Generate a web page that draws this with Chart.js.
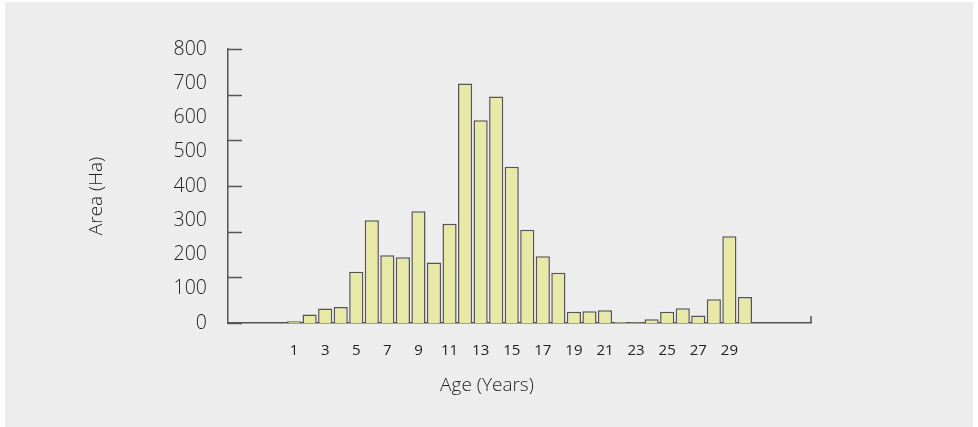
<!DOCTYPE html>
<html>
<head>
<meta charset="utf-8">
<script src="https://cdn.jsdelivr.net/npm/chart.js@4.4.1/dist/chart.umd.min.js"></script>
<style>
  html, body { margin: 0; padding: 0; background: #fff; }
  #wrap { position: absolute; left: 5px; top: 2px; width: 968px; height: 425px; background: #ededed; }
  canvas { display: block; }
</style>
</head>
<body>
<div id="wrap"><canvas id="chart" width="968" height="425"></canvas></div>
<script>
/* Data */
const ages = [1, 2, 3, 4, 5, 6, 7, 8, 9, 10, 11, 12, 13, 14, 15,
              16, 17, 18, 19, 20, 21, 22, 23, 24, 25, 26, 27, 28, 29, 30];
const areas = [5, 25, 42, 47, 150, 300, 198, 192, 326, 177, 290, 699, 592, 661, 456,
               272, 195, 147, 33, 34, 37, 3, 2, 11, 33, 43, 22, 69, 253, 76];
const xTickValues = [1, 3, 5, 7, 9, 11, 13, 15, 17, 19, 21, 23, 25, 27, 29];
const yMax = 800;
const yStep = 100;
const yMarkCount = 6;   // tick marks on the y axis line (not at label positions)
const xTitle = "Age (Years)";
const yTitle = "Area (Ha)";

const AXIS = "#555";
const FONT = "'Open Sans', sans-serif";

/* Inward tick marks, end mark of the x axis, axis titles */
const axisMarks = {
    id: "axisMarks",
    afterDraw(chart) {
        const { ctx, scales: { x, y } } = chart;
        ctx.save();
        ctx.strokeStyle = AXIS;
        ctx.lineWidth = 1.5;
        for (let i = 0; i <= yMarkCount; i++) {
            const py = Math.round(y.getPixelForValue(i * yMax / yMarkCount)) + 0.5;
            ctx.beginPath();
            ctx.moveTo(x.left, py);
            ctx.lineTo(x.left + 14, py);
            ctx.stroke();
        }
        ctx.beginPath();
        ctx.moveTo(x.right, y.bottom);
        ctx.lineTo(x.right, y.bottom - 7);
        ctx.stroke();

        // titles (not centred on the axes in the original)
        ctx.fillStyle = "#1e1e1e";
        ctx.textAlign = "center";
        ctx.textBaseline = "middle";
        ctx.font = "300 19px " + FONT;
        ctx.fillText(xTitle, chart.width / 2 - 2, y.bottom + 63);
        ctx.translate(92, (y.top + y.bottom) / 2 + 10);
        ctx.rotate(-Math.PI / 2);
        ctx.font = "300 19px " + FONT;
        ctx.fillText(yTitle, 0, 0);
        ctx.restore();
    }
};

Chart.defaults.font.family = FONT;
Chart.defaults.font.weight = 300;
Chart.defaults.color = "#1e1e1e";

new Chart(document.getElementById("chart"), {
    type: "bar",
    data: {
        datasets: [{
            data: ages.map((a, i) => ({ x: a, y: areas[i] })),
            backgroundColor: "#e8e9a7",
            borderColor: "#555",
            borderWidth: 1.5,
            categoryPercentage: 1,
            barPercentage: 0.91
        }]
    },
    options: {
        responsive: false,
        animation: false,
        layout: { padding: { left: 78, right: 162, top: 47, bottom: 0 } },
        plugins: { legend: { display: false }, tooltip: { enabled: false } },
        scales: {
            x: {
                type: "linear",
                min: -3.25,
                max: 34.25,
                offset: false,
                grid: { display: false, drawTicks: false, offset: false },
                border: { display: true, color: AXIS, width: 1.5 },
                afterBuildTicks: s => { s.ticks = xTickValues.map(v => ({ value: v })); },
                afterFit: s => { s.height = 104; },
                ticks: { font: { size: 15, weight: 400 }, padding: 19, maxRotation: 0, autoSkip: false }
            },
            y: {
                min: 0,
                max: yMax,
                grid: { display: false, drawTicks: false },
                border: { display: true, color: AXIS, width: 1.5 },
                afterFit: s => { s.width = 145; },
                ticks: { stepSize: yStep, font: { size: 19.5 }, padding: 21 }
            }
        }
    },
    plugins: [axisMarks]
});
</script>
</body>
</html>
